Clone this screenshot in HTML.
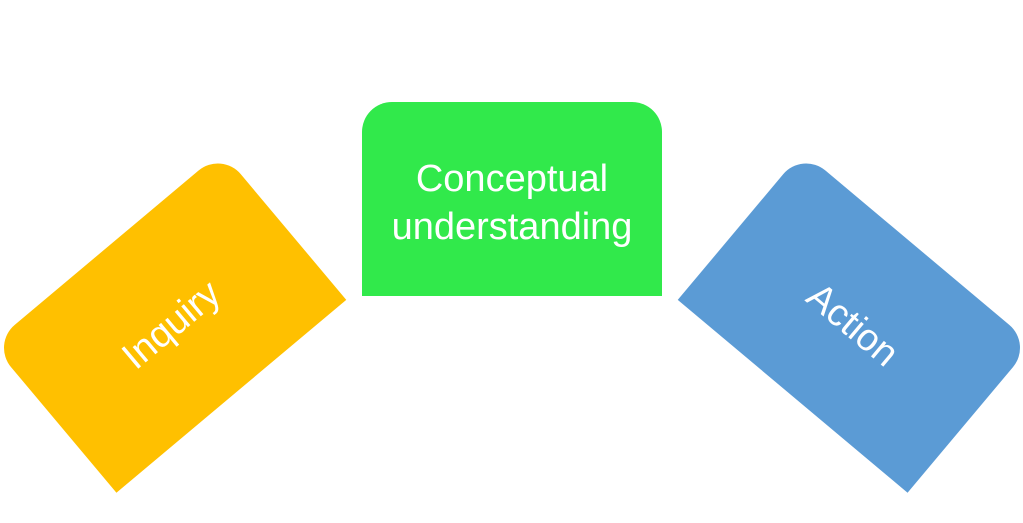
<!DOCTYPE html>
<html><head><style>
html,body{margin:0;padding:0;background:#fff;width:1023px;height:523px;overflow:hidden;position:relative;font-family:"Liberation Sans",sans-serif}
.s{position:absolute;width:300px;height:194px;border-radius:30px 30px 0 0;color:#fff;display:flex;align-items:center;justify-content:center;text-align:center;font-size:38px;line-height:48px;box-sizing:border-box;padding-top:8px}
</style></head><body>
<div class="s" style="left:362px;top:102px;background:#31E94B;">Conceptual<br>understanding</div>
<div class="s" style="left:19px;top:225px;background:#FFC000;transform:rotate(-40deg);">Inquiry</div>
<div class="s" style="left:705px;top:225px;background:#5B9BD5;transform:rotate(40deg);">Action</div>
</body></html>
